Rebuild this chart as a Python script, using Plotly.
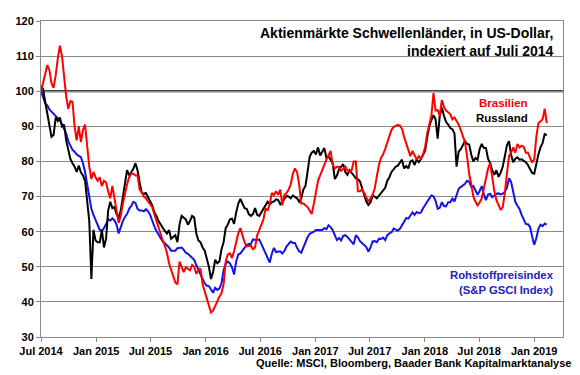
import pandas as pd
import plotly.graph_objects as go

# Weekly observations, starting 1 July 2014
START_DATE = "2014-07-01"
N_WEEKS = 242

brasilien = [
    100, 102.5, 105, 107.4, 106, 102.3, 101, 104.5, 109.3, 113,
    110, 103.5, 98.5, 95, 97.2, 97, 90, 86, 90, 85.5,
    89, 90.5, 84, 78.5, 75, 77, 75.5, 74.5, 75.5, 73,
    74.5, 74, 71.5, 69.5, 73, 70, 66, 62.5, 64.5, 68,
    71, 73.5, 75.5, 76.5, 76.5, 76, 76, 72, 71.3, 70,
    69.5, 68.6, 68, 67, 65, 63, 61.5, 59.5, 57.5, 56,
    54, 51, 49, 47.5, 45.5, 45, 51.5, 50, 48.5, 49.8,
    49.5, 49, 50.5, 50, 48, 49, 49.5, 45, 43, 41,
    39, 37, 37.5, 39, 40.5, 41.5, 42.5, 45, 51.5, 53.5,
    53.8, 52.5, 54.5, 57, 59.5, 61, 59, 57, 55.8, 56,
    56, 55, 55.5, 59, 60.5, 62, 63.5, 66.7, 66, 68,
    71, 70.4, 71.5, 70.5, 72, 67.5, 70.5, 71, 72, 73.5,
    76.5, 78, 77, 73.5, 68, 68, 67.5, 67, 66, 65,
    68, 71.5, 74.5, 76, 77.8, 79, 80.5, 82, 83, 79,
    78, 78.5, 78.5, 77.3, 78, 78.5, 77.5, 77, 77.5, 80,
    80, 71.5, 71.5, 72, 71, 69.8, 68.5, 69.5, 70.5, 72.3,
    75.5, 79, 81, 82, 83.6, 85.5, 87.5, 89, 89.8, 90.2,
    90.4, 90.2, 89.3, 87, 85, 83.5, 81.5, 83, 81.5, 80.5,
    81.5, 80.8, 82, 84, 88, 90.9, 93, 99.5, 94.5, 94.6,
    93, 97.5, 95.5, 94.5, 94, 93.5, 92, 92.5, 91.5, 90.5,
    89, 87, 85.5, 81.5, 76.5, 73.5, 70, 68.6, 67.5, 68.3,
    69.5, 72.3, 75, 78, 79.5, 75, 71.5, 69, 67.7, 66.2,
    67, 71, 76.5, 81.5, 82.5, 84, 82.5, 85, 84, 84.5,
    84.2, 82.5, 82.5, 80.8, 79.7, 80.5, 87, 90.9, 91.5, 92,
    95, 90.9,
]

russland = [
    101.5, 100.6, 97, 93.7, 90.5, 87, 87.5, 92.5, 91.5, 92.5,
    90, 90.5, 86, 83, 80.7, 79.5, 78.5, 77, 78.8, 76.9,
    76, 74.5, 69, 63, 46.5, 60.5, 57.5, 57, 57, 60.5,
    55.5, 58, 66, 68.5, 66.7, 67, 65, 64, 66, 70,
    73.5, 77.5, 76, 77, 77.9, 79.5, 77.5, 74, 71, 70.8,
    71, 69.8, 68.5, 67.5, 65.5, 64.5, 63, 62, 61.3, 60.2,
    59.5, 60.5, 58, 58.5, 59, 57, 62, 64.5, 64, 63.5,
    62, 63, 64.5, 64, 59.5, 57.5, 57, 55.5, 54.6, 52.5,
    50, 46.5, 48.5, 52, 51, 51.5, 55, 57, 61, 62,
    63.5, 63.7, 62.2, 65.5, 68, 69.3, 67.8, 66.7, 66.5, 65,
    64.5, 65, 66.7, 64.8, 64.5, 65.5, 66.5, 67.6, 68.5, 67.8,
    68.4, 68.6, 69.2, 69, 67.8, 68.5, 69.5, 70.2, 70, 69.5,
    70.3, 70, 69.5, 68.5, 69.5, 72, 73, 77, 81.3, 82.5,
    83, 82, 84, 81.7, 83, 83.8, 81, 81.5, 80.5, 79.5,
    75, 76, 77.8, 78.5, 79.2, 77, 76.2, 77.5, 76.9, 76,
    75.2, 75, 74.3, 72.5, 70.5, 68.6, 67.6, 68.4, 70.2, 70,
    69.5, 70.2, 71, 71.5, 72.5, 74.5, 75.5, 77, 77.8, 78.5,
    78.8, 79.8, 80.5, 78, 78.7, 78, 80, 80.3, 79, 80.5,
    79.8, 80.7, 81.8, 83, 86.8, 90, 91.8, 93.2, 92, 86.5,
    93, 95.3, 93, 91.3, 90.5, 89.5, 89.2, 88, 78.5, 82.8,
    83.5, 84.6, 85.8, 85, 84.8, 82, 80, 81, 80.5, 83.5,
    85, 83.8, 83.8, 80.8, 79.5, 77.5, 76.2, 77.5, 75.6, 76.8,
    78.5, 81.5, 84.6, 85.8, 81.8, 79.8, 80.8, 81.2, 80.5, 80.6,
    80.2, 79.8, 79, 78, 76.7, 76.5, 79.8, 82, 84, 85.3,
    87.8, 87.5,
]

rohstoffe = [
    100, 98.3, 96.5, 96, 94.8, 94.2, 93.5, 92.8, 92.3, 91.8,
    90.5, 89, 88, 85.8, 84.3, 83.3, 82.8, 82, 81.6, 81.2,
    79.5, 77, 73.5, 69.5, 66.5, 64.8, 63.5, 61.8, 60.5, 60.2,
    61, 62.2, 63.5, 63.2, 63.8, 63.2, 62, 59.5, 61.5, 63,
    64.2, 65, 66.5, 67.3, 68.5, 68.2, 66.5, 66, 66, 65.8,
    66.4, 65.8, 64.8, 63, 61.5, 60.2, 59.3, 58.3, 57.2, 56.7,
    56.2, 55.5, 54.6, 54.7, 54.6, 55.3, 55.5, 55.5, 54.8, 54,
    53.7, 53.2, 52.7, 52, 50.5, 49, 47.8, 46.5, 45.3, 44.6,
    44.5, 43.5, 42.6, 44, 43.4, 43.8, 45.3, 49, 50.8, 51.5,
    51, 49.8, 47.8, 51.5, 53.5, 53.8, 54.5, 55.3, 56.2, 56.5,
    56.5, 57.8, 57.6, 57.6, 57.8, 56.5, 55.2, 54, 52.4, 51.2,
    53.8, 55.4, 54.2, 54.3, 54.4, 53.8, 54.5, 55.8, 56.6, 57.2,
    56.8, 56.8, 55.4, 54.4, 54, 55.4, 57.3, 58.4, 59.4, 59.6,
    60, 60.5, 60.5, 60.4, 60.5, 61, 60.7, 61.8, 61.3, 60.4,
    58.8, 57.6, 58.2, 57.5, 58.8, 59, 58.5, 57.8, 57, 56.4,
    59, 58.4, 57.3, 56.8, 56.3, 55.6, 54.3, 55.5, 57.2, 57.3,
    57, 58, 57.9, 58.3, 57.6, 59, 59.5, 59.8, 60.9, 60.6,
    60.3, 60.8, 61.7, 62.8, 63.9, 63.7, 64.6, 65.5, 64.8, 65.6,
    65.3, 65.4, 66.6, 67.7, 68.5, 69.4, 70.3, 70.1, 68.8, 66.5,
    66.8, 68.4, 67.3, 67.2, 68.4, 68.4, 69.4, 68.6, 70.7, 72.2,
    72.7, 73.2, 73.6, 74.5, 74.2, 72.8, 73, 71.8, 70.5, 71.6,
    73, 70.7, 69, 70.6, 70.8, 69.8, 70.4, 70.8, 70.9, 70.6,
    70.8, 71.4, 72.5, 75.2, 74.1, 71.2, 68.5, 67.4, 66.5, 64.8,
    63.4, 62.2, 62.1, 61.4, 58.6, 56.3, 58.1, 60.8, 62, 61.6,
    62.3, 62,
]

dates = pd.date_range(START_DATE, periods=N_WEEKS, freq="7D")

REF_LEVEL = 100
Y_RANGE = [30, 120]
X_RANGE = ["2014-07-01", "2019-04-07"]

FONT = "Liberation Sans, Arial, sans-serif"
RED = "#ff0000"
BLACK = "#000000"
BLUE = "#1414e6"
BLUE_TEXT = "#2222b8"
GRID = "#8a8a8a"

fig = go.Figure()
fig.add_trace(go.Scatter(x=dates, y=rohstoffe, mode="lines",
                         line=dict(color=BLUE, width=2), name="Rohstoffpreisindex"))
fig.add_trace(go.Scatter(x=dates, y=russland, mode="lines",
                         line=dict(color=BLACK, width=2), name="Russland"))
fig.add_trace(go.Scatter(x=dates, y=brasilien, mode="lines",
                         line=dict(color=RED, width=2), name="Brasilien"))

fig.add_hline(y=REF_LEVEL, line=dict(color="#000000", width=2), layer="below")

# page body has an 8px default margin, so the figure is sized to fit the window
fig.update_layout(
    width=572, height=367,
    margin=dict(l=29, r=17, t=7, b=38),
    paper_bgcolor="white", plot_bgcolor="white",
    showlegend=False,
    font=dict(family=FONT, size=11, color="black"),
)

fig.update_xaxes(
    type="date", range=X_RANGE,
    tick0="2014-07-01", dtick="M6", tickformat="%b %Y",
    ticks="outside", ticklen=4, tickcolor=GRID,
    showgrid=False, showline=True, linecolor=GRID, linewidth=1, mirror=True,
    tickfont=dict(family=FONT, size=11, color="black", weight="bold"),
)
fig.update_yaxes(
    range=Y_RANGE, dtick=10, tick0=30,
    ticks="outside", ticklen=4, tickcolor=GRID,
    showgrid=True, gridcolor=GRID, gridwidth=1,
    showline=True, linecolor=GRID, linewidth=1, mirror=True,
    zeroline=False,
    tickfont=dict(family=FONT, size=11, color="black", weight="bold"),
)

ann_font = dict(family=FONT, weight="bold")
fig.add_annotation(
    text="Aktienmärkte Schwellenländer, in US-Dollar,<br>indexiert auf Juli 2014",
    xref="paper", yref="paper", x=0.987, y=0.995, xanchor="right", yanchor="top",
    align="right", showarrow=False, font=dict(size=14, color="black", **ann_font),
)
fig.add_annotation(
    text="Brasilien", xref="paper", yref="paper", x=0.937, y=0.739,
    xanchor="right", yanchor="middle", showarrow=False,
    font=dict(size=11.5, color=RED, **ann_font),
)
fig.add_annotation(
    text="Russland", xref="paper", yref="paper", x=0.937, y=0.692,
    xanchor="right", yanchor="middle", showarrow=False,
    font=dict(size=11.5, color="black", **ann_font),
)
fig.add_annotation(
    text="Rohstoffpreisindex<br>(S&P GSCI Index)", xref="paper", yref="paper",
    x=0.986, y=0.171, xanchor="right", yanchor="middle", align="right",
    showarrow=False, font=dict(size=11.3, color=BLUE_TEXT, **ann_font),
)
fig.add_annotation(
    text="Quelle: MSCI, Bloomberg, Baader Bank Kapitalmarktanalyse",
    xref="paper", yref="paper", x=1.019, y=-0.081, xanchor="right", yanchor="middle",
    showarrow=False, font=dict(size=11, color="black", **ann_font),
)

fig.write_html("out.html")
